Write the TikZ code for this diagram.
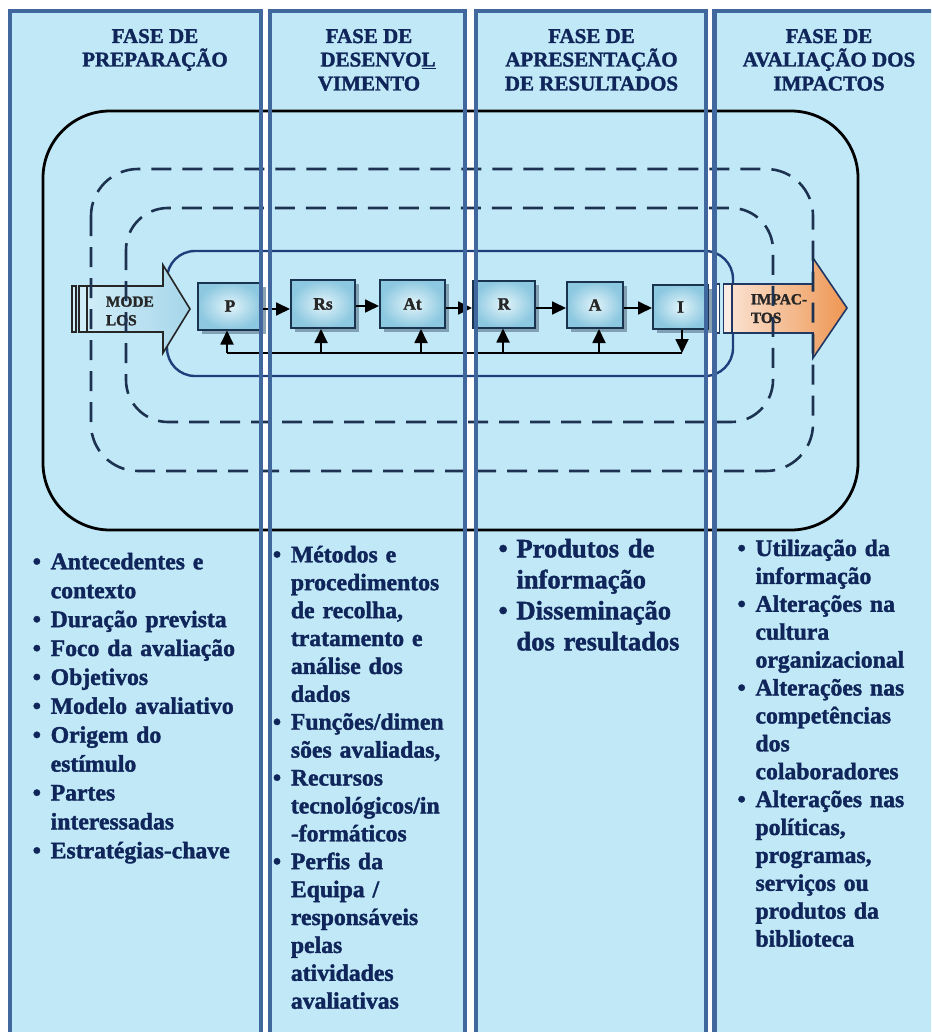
\documentclass[tikz,border=0pt]{standalone}
\usepackage{fontspec}
\setmainfont{Liberation Serif}[BoldFont={Liberation Serif Bold}, BoldFeatures={FakeBold=1.6}]
\usetikzlibrary{arrows.meta,shadows}

\definecolor{panelfill}{RGB}{192,232,247}
\definecolor{panelline}{RGB}{64,104,158}
\definecolor{inknavy}{RGB}{16,38,90}
\definecolor{dashnavy}{RGB}{28,50,80}
\definecolor{loopblue}{RGB}{30,62,124}
\definecolor{boxline}{RGB}{26,52,80}
\definecolor{boxlight}{RGB}{226,244,250}
\definecolor{boxdark}{RGB}{140,200,224}
\definecolor{shadowgrey}{RGB}{120,148,168}
\definecolor{arrowblueL}{RGB}{208,237,248}
\definecolor{arrowblueR}{RGB}{166,214,234}
\definecolor{peach}{RGB}{250,224,206}
\definecolor{impactorange}{RGB}{238,150,82}
\definecolor{impactline}{RGB}{31,56,100}

\newcommand{\bul}{\makebox[18pt][l]{\textbullet}}
\newcommand{\ind}{\hspace*{18pt}}

\begin{document}
\begin{tikzpicture}[x=1pt,y=-1pt,
  panelrim/.style={draw=panelline, line width=4.2pt},
  headline/.style={font=\fontsize{21}{23.7}\selectfont\bfseries, text=inknavy, inner sep=0pt, anchor=base},
  itemlist/.style={font=\fontsize{23.7}{27.9}\selectfont\bfseries, text=inknavy, inner sep=0pt, anchor=base west, text width=230pt, align=left},
  stagebox/.style={draw=boxline, line width=2pt, inner color=boxlight, outer color=boxdark, inner sep=0pt,
    font=\fontsize{17.4}{18}\selectfont\bfseries, text=black!85,
    drop shadow={shadow xshift=4pt, shadow yshift=-4pt, fill=shadowgrey, opacity=0.85}},
  flow/.style={line width=1.8pt, draw=black, -{Triangle[length=14pt,width=13pt]}},
  link/.style={line width=1.8pt, draw=black},
  loopdash/.style={draw=dashnavy, line width=2.6pt, dash pattern=on 20pt off 11pt},
  arrowlabel/.style={font=\fontsize{15.4}{18.6}\selectfont\bfseries, text=black!85, inner sep=0pt, anchor=base west, align=left, text width=70pt},
]
\useasboundingbox (0,0) rectangle (931,1032);

\begin{scope}
\clip (0,0) rectangle (931,1032);
\fill[white] (0,0) rectangle (931,1032);

% column backgrounds
\foreach \l/\r in {10/261,270/465,476/706,714.5/945}
  \fill[panelfill] (\l,11) rectangle (\r,1045);

% evaluation cycle frames
\draw[black, line width=2.8pt, rounded corners=67pt] (43,111) rectangle (858,530);
\draw[loopblue, line width=2.4pt, rounded corners=28pt] (167,251) rectangle (733,376);

% input arrow
\draw[line width=1.4pt, draw=black!85, fill=arrowblueL] (72,286) rectangle (76,332);
\draw[line width=1.4pt, draw=black!85, fill=arrowblueL] (79,286) rectangle (87,332);
\draw[line width=1.6pt, draw=black!85, left color=arrowblueL, right color=arrowblueR]
  (87,286) -- (163,286) -- (163,265) -- (190,309) -- (163,353) -- (163,332) -- (87,332) -- cycle;
\node[arrowlabel] (modelos) at (105.7,306.7) {MODE\\LOS};

% output arrow
\draw[line width=1.4pt, draw=impactline, fill=white] (716.7,284) rectangle (719.5,333);
\draw[line width=1.4pt, draw=impactline, fill=peach!60] (723.3,284) rectangle (731.7,333);
\draw[line width=1.6pt, draw=impactline, left color=peach, right color=impactorange]
  (732,284) -- (813,284) -- (813,258) -- (847,308) -- (813,358) -- (813,333) -- (732,333) -- cycle;
\node[arrowlabel] (impactos) at (750.7,304.3) {IMPAC-\\TOS};

% dashed cycles
\draw[loopdash, rounded corners=47pt] (91,169) rectangle (813,471);
\draw[loopdash, rounded corners=42pt] (126,208) rectangle (773,422);

% stages
\node[stagebox, minimum width=64pt, minimum height=47pt] (P)  at (230,306)   {P};
\node[stagebox, minimum width=64pt, minimum height=48pt] (Rs) at (323,304)   {Rs};
\node[stagebox, minimum width=65pt, minimum height=48pt] (At) at (412.5,304) {At};
\node[stagebox, minimum width=62pt, minimum height=47pt] (R)  at (504,304)   {R};
\node[stagebox, minimum width=56pt, minimum height=46pt] (A)  at (595,305)   {A};
\node[stagebox, minimum width=55pt, minimum height=44pt] (I)  at (680.5,307) {I};

\draw[flow] ([yshift=-3pt]P.east) -- ([yshift=-3pt]P.east -| Rs.west);
\draw[flow] ([yshift=-2pt]Rs.east) -- ([yshift=-2pt]Rs.east -| At.west);
\draw[flow] ([yshift=-4pt]At.east) -- ([yshift=-4pt]At.east -| R.west);
\draw[flow] ([yshift=-4pt]R.east) -- ([yshift=-4pt]R.east -| A.west);
\draw[flow] ([yshift=-3pt]A.east) -- ([yshift=-3pt]A.east -| I.west);

% feedback loop
\coordinate (fbL) at (227,353);
\coordinate (fbR) at (682,353);
\coordinate (tapRs) at (321,353);
\coordinate (tapAt) at (421,353);
\coordinate (tapR) at (503,353);
\coordinate (tapA) at (599,353);
\draw[flow] (I.south -| fbR) -- (fbR);
\draw[link] (fbR) -- (fbL);
\draw[flow] (fbL) -- (fbL |- P.south);
\draw[flow] (tapRs) -- (tapRs |- Rs.south);
\draw[flow] (tapAt) -- (tapAt |- At.south);
\draw[flow] (tapR) -- (tapR |- R.south);
\draw[flow] (tapA) -- (tapA |- A.south);

% column frames
\foreach \l/\r in {10/261,270/465,476/706,714.5/945}
  \draw[panelrim] (\l,11) rectangle (\r,1045);
\end{scope}

% column headings
\node[headline] (h1a) at (155,43)   {FASE DE};
\node[headline] (h1b) at (155,66.5) {PREPARAÇÃO};
\node[headline] (h2a) at (369,43)   {FASE DE};
\node[headline] (h2b) at (378,66.5) {DESENVO\underline{L}};
\node[headline] (h2c) at (369,90.5) {VIMENTO};
\node[headline] (h3a) at (591.5,43)   {FASE DE};
\node[headline] (h3b) at (591.5,66.5) {APRESENTAÇÃO};
\node[headline] (h3c) at (591.5,90.5) {DE RESULTADOS};
\node[headline] (h4a) at (829,43)   {FASE DE};
\node[headline] (h4b) at (829,66.5) {AVALIAÇÃO DOS};
\node[headline] (h4c) at (829,90.5) {IMPACTOS};

% column contents
\node[itemlist, font=\fontsize{23.7}{28.9}\selectfont\bfseries] (list1) at (32.5,569.3) {%
\bul Antecedentes e\\ \ind contexto\\
\bul Duração prevista\\
\bul Foco da avaliação\\
\bul Objetivos\\
\bul Modelo avaliativo\\
\bul Origem do\\ \ind estímulo\\
\bul Partes\\ \ind interessadas\\
\bul Estratégias-chave};

\node[itemlist] (list2) at (272.7,562.3) {%
\bul Métodos e\\ \ind procedimentos\\ \ind de recolha,\\ \ind tratamento e\\ \ind análise dos\\ \ind dados\\
\bul Funções/dimen\\ \ind sões avaliadas,\\
\bul Recursos\\ \ind tecnológicos/in\\ \ind -formáticos\\
\bul Perfis da\\ \ind Equipa /\\ \ind responsáveis\\ \ind pelas\\ \ind atividades\\ \ind avaliativas};

\node[itemlist, font=\fontsize{26.5}{31}\selectfont\bfseries] (list3) at (498.3,557.3) {%
\bul Produtos de\\ \ind informação\\
\bul Disseminação\\ \ind dos resultados};

\node[itemlist] (list4) at (737.3,556) {%
\bul Utilização da\\ \ind informação\\
\bul Alterações na\\ \ind cultura\\ \ind organizacional\\
\bul Alterações nas\\ \ind competências\\ \ind dos\\ \ind colaboradores\\
\bul Alterações nas\\ \ind políticas,\\ \ind programas,\\ \ind serviços ou\\ \ind produtos da\\ \ind biblioteca};
\end{tikzpicture}
\end{document}
